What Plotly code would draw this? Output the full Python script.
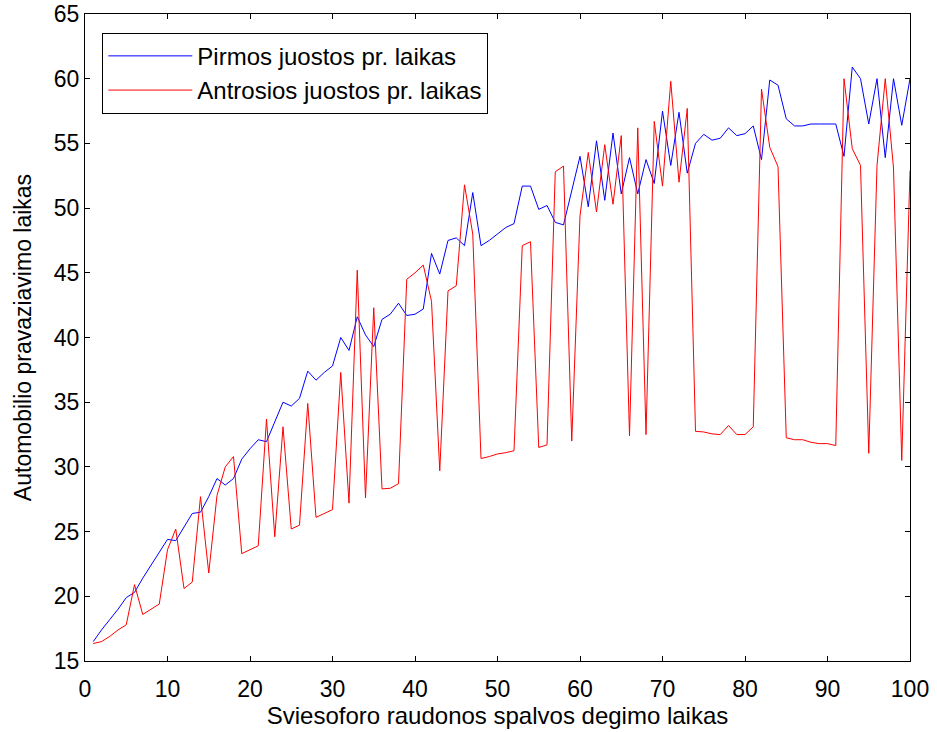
import plotly.graph_objects as go

x_vals = list(range(1, 101))

pirmos = [
    16.5, 17.4, 18.2, 19.0, 19.9, 20.3, 21.4, 22.4, 23.3, 24.4,
    24.3, 25.4, 26.4, 26.5, 27.7, 29.1, 28.6, 29.1, 30.6, 31.4,
    32.1, 31.95, 33.5, 35.0, 34.7, 35.3, 37.4, 36.7, 37.3, 37.8,
    40.0, 39.0, 41.6, 40.2, 39.3, 41.4, 41.8, 42.65, 41.7, 41.8,
    42.2, 46.5, 44.9, 47.5, 47.7, 47.1, 51.2, 47.1, 47.5, 48.0,
    48.5, 48.8, 51.7, 51.7, 49.9, 50.2, 48.9, 48.7, 51.3, 54.0,
    50.1, 55.2, 50.6, 55.8, 51.1, 53.9, 51.1, 53.75, 51.9, 57.5,
    53.3, 57.4, 52.7, 55.0, 55.7, 55.25, 55.4, 56.2, 55.6, 55.75,
    56.35, 53.75, 59.9, 59.5, 56.9, 56.35, 56.35, 56.5, 56.5, 56.5,
    56.5, 54.0, 60.9, 60.0, 56.5, 60.0, 53.9, 60.0, 56.4, 60.0,
]

antrosios = [
    16.35, 16.5, 16.9, 17.4, 17.8, 20.9, 18.6, 19.0, 19.4, 23.6,
    25.2, 20.6, 21.1, 27.7, 21.8, 27.8, 30.0, 30.8, 23.3, 23.6,
    23.9, 33.7, 24.6, 33.1, 25.2, 25.5, 34.9, 26.1, 26.4, 26.7,
    37.3, 27.2, 45.2, 27.6, 42.3, 28.3, 28.35, 28.7, 44.5, 45.0,
    45.6, 42.8, 29.7, 43.6, 44.0, 51.8, 48.0, 30.65, 30.8, 31.0,
    31.1, 31.25, 47.1, 47.4, 31.5, 31.7, 52.8, 53.25, 32.0, 49.4,
    54.3, 49.7, 54.9, 50.3, 55.6, 32.4, 56.2, 32.5, 56.7, 51.7,
    59.8, 52.0, 57.7, 32.75, 32.7, 32.55, 32.5, 33.2, 32.5, 32.5,
    33.1, 59.2, 54.7, 53.2, 32.25, 32.1, 32.1, 31.9, 31.8, 31.8,
    31.65, 60.0, 54.6, 53.3, 31.05, 53.3, 60.0, 53.1, 30.5, 52.9,
]

x_ticks = [0, 10, 20, 30, 40, 50, 60, 70, 80, 90, 100]
y_ticks = [15, 20, 25, 30, 35, 40, 45, 50, 55, 60, 65]

FONT = "Liberation Sans, Arial, sans-serif"

fig = go.Figure()
fig.add_trace(go.Scatter(x=x_vals, y=pirmos, mode="lines",
                         line=dict(color="#0000FF", width=1),
                         name="Pirmos juostos pr. laikas", legendgroup="a"))
fig.add_trace(go.Scatter(x=x_vals, y=antrosios, mode="lines",
                         line=dict(color="#FF0000", width=1),
                         name="Antrosios juostos pr. laikas", legendgroup="b"))

axis_common = dict(
    showgrid=False, zeroline=False, showline=True, linecolor="black",
    linewidth=1, mirror="ticks", ticks="inside", ticklen=5,
    tickcolor="black", tickfont=dict(family=FONT, size=23, color="black"),
    automargin=False,
)

fig.update_layout(
    width=937, height=732,
    margin=dict(l=85, r=27, t=14, b=71),
    paper_bgcolor="white", plot_bgcolor="white",
    font=dict(family=FONT, color="black"),
    xaxis=dict(range=[0, 100], tickvals=x_ticks, ticktext=[str(v) for v in x_ticks],
               ticklabelstandoff=7,
               title=dict(text="Sviesoforo raudonos spalvos degimo laikas",
                          font=dict(family=FONT, size=24), standoff=0),
               **axis_common),
    yaxis=dict(range=[15, 65], tickvals=y_ticks, ticktext=[str(v) for v in y_ticks],
               title=dict(text="Automobilio pravaziavimo laikas",
                          font=dict(family=FONT, size=23), standoff=15),
               **axis_common),
    legend=dict(x=0.021, y=0.971, xanchor="left", yanchor="top",
                bgcolor="white", bordercolor="black", borderwidth=1,
                font=dict(family=FONT, size=24, color="black"),
                itemwidth=84, tracegroupgap=0),
    showlegend=True,
)

fig.write_html("out.html", config={"displayModeBar": False},
               post_script="document.body.style.margin='0';")
